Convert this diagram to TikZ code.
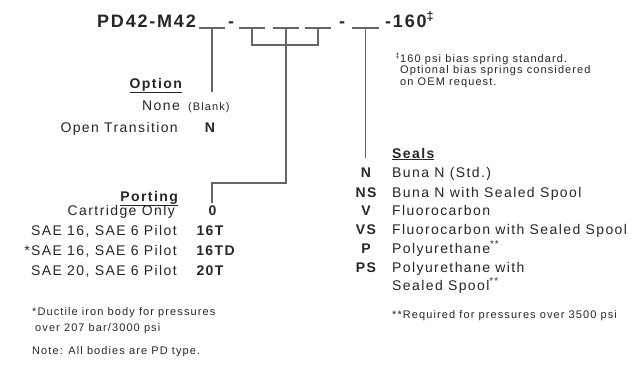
\documentclass[tikz,border=0pt]{standalone}
\usepackage{fontspec}
\setmainfont{Liberation Sans}[LetterSpace=10]

\begin{document}
\begin{tikzpicture}[x=1pt,y=-1pt,
    every node/.style={inner sep=0pt, text=black!85},
    code/.style={font=\fontsize{18}{18}\selectfont\bfseries},
    blank/.style={minimum width=26pt, minimum height=0pt, inner sep=0pt},
    lead/.style={line width=1.1pt, draw=black!60},
    entry/.style={font=\fontsize{14}{14}\selectfont, anchor=base east},
    key/.style={font=\fontsize{14}{14}\selectfont\bfseries, anchor=base},
    head/.style={font=\fontsize{14}{14}\selectfont\bfseries},
    desc/.style={font=\fontsize{14}{14}\selectfont, anchor=base west},
    note/.style={font=\fontsize{11}{11}\selectfont, anchor=base west}]
    \useasboundingbox (0,0) rectangle (641,367);

    % model code
    \node[code, anchor=base west] (title) at (97,27) {PD42-M42};
    \node[blank] (b1) at (212,28) {};
    \node[code, anchor=base] (dash1) at (231,27) {-};
    \node[blank] (b2) at (252,28) {};
    \node[blank] (b3) at (286,28) {};
    \node[blank] (b4) at (318,28) {};
    \node[code, anchor=base] (dash2) at (342,27) {-};
    \node[blank] (b5) at (365.5,28) {};
    \node[code, anchor=base west] (tail) at (385,27) {-160\textsuperscript{‡}};
    \foreach \b in {b1,b2,b3,b4,b5}
        \draw[lead] (\b.west) -- (\b.east);

    \coordinate (optend) at (212,92);
    \coordinate (brk) at (286,45);
    \coordinate (pturn) at (212,183);
    \coordinate (pend) at (212,203);
    \coordinate (sealend) at (365.5,158);

    \draw[lead] (b1.center) -- (optend);
    \draw[lead] (b2.center) |- (brk) -| (b4.center);
    \draw[lead] (b3.center) |- (pturn) -- (pend);
    \draw[lead] (b5.center) -- (sealend);

    % spring note
    \node[note] (spr1) at (400,62) {\llap{\textsuperscript{‡}}160 psi bias spring standard.};
    \node[note] (spr2) at (400,73.5) {Optional bias springs considered};
    \node[note] (spr3) at (400,85) {on OEM request.};

    % option
    \node[head, anchor=base east] (opthead) at (182,88) {\underline{Option}};
    \node[entry] (none) at (180,110) {None};
    \node[note] (nonecode) at (188,110) {(Blank)};
    \node[entry] (opentr) at (178,132) {Open Transition};
    \node[key] (opencode) at (210,132) {N};

    % porting
    \node[head, anchor=base east] (porthead) at (178,201) {\underline{Porting}};
    \node[entry] (cart) at (175,215) {Cartridge Only};
    \node[key] (cartcode) at (212.5,215) {0};
    \node[entry] (sae16) at (177,235) {SAE 16, SAE 6 Pilot};
    \node[key] (sae16code) at (210,235) {16T};
    \node[entry] (sae16d) at (177,255) {*SAE 16, SAE 6 Pilot};
    \node[key] (sae16dcode) at (215.5,255) {16TD};
    \node[entry] (sae20) at (177,275) {SAE 20, SAE 6 Pilot};
    \node[key] (sae20code) at (210,275) {20T};

    \node[note] (duct1) at (32,315) {*Ductile iron body for pressures};
    \node[note] (duct2) at (35,331) {over 207 bar/3000 psi};
    \node[note] (pdnote) at (32,354) {Note: All bodies are PD type.};

    % seals
    \node[head, anchor=base west] (sealhead) at (392,158) {\underline{Seals}};
    \node[key] (sN) at (366,177) {N};
    \node[desc] (dN) at (392,177) {Buna N (Std.)};
    \node[key] (sNS) at (366,197) {NS};
    \node[desc] (dNS) at (392,197) {Buna N with Sealed Spool};
    \node[key] (sV) at (366,215) {V};
    \node[desc] (dV) at (392,215) {Fluorocarbon};
    \node[key] (sVS) at (366,234) {VS};
    \node[desc] (dVS) at (392,234) {Fluorocarbon with Sealed Spool};
    \node[key] (sP) at (366,253) {P};
    \node[desc] (dP) at (392,253) {Polyurethane\textsuperscript{**}};
    \node[key] (sPS) at (366,272) {PS};
    \node[desc] (dPS) at (392,272) {Polyurethane with};
    \node[desc] (dPS2) at (392,290) {Sealed Spool\textsuperscript{**}};
    \node[note] (reqnote) at (392,318) {**Required for pressures over 3500 psi};
\end{tikzpicture}
\end{document}
